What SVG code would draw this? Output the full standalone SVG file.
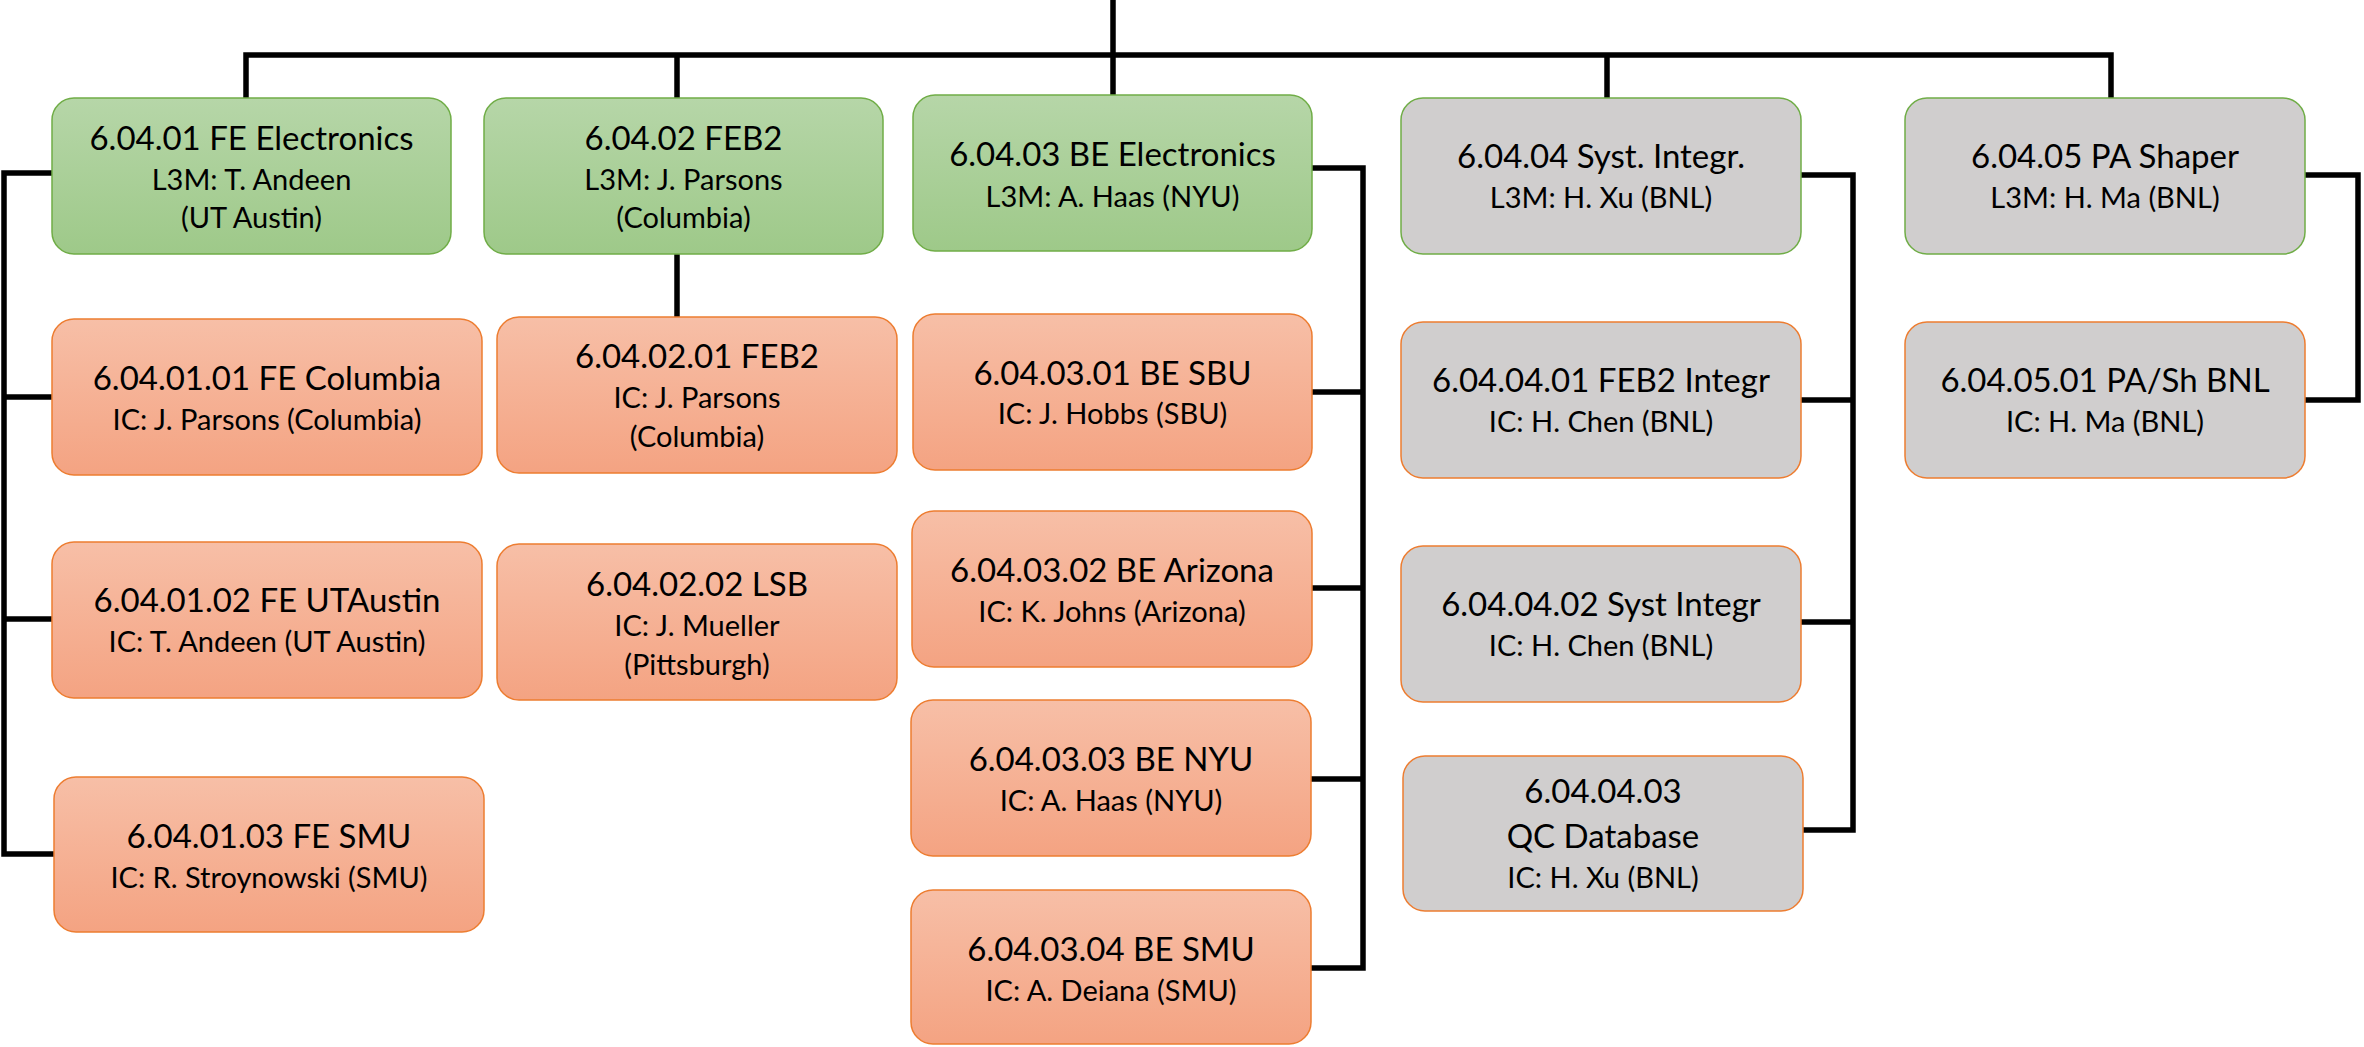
<svg xmlns="http://www.w3.org/2000/svg" width="2364" height="1047" viewBox="0 0 2364 1047">
<defs>
<linearGradient id="gG" x1="0" y1="0" x2="0" y2="1"><stop offset="0" stop-color="#b6d6a8"/><stop offset="1" stop-color="#9ec989"/></linearGradient>
<linearGradient id="gO" x1="0" y1="0" x2="0" y2="1"><stop offset="0" stop-color="#f7bfa7"/><stop offset="1" stop-color="#f4a382"/></linearGradient>
<style>
.g{fill:url(#gG);stroke:#70ad47;stroke-width:1.5}
.o{fill:url(#gO);stroke:#ed7d31;stroke-width:1.5}
.sg{fill:#d0cece;stroke:#70ad47;stroke-width:1.5}
.so{fill:#d0cece;stroke:#ed7d31;stroke-width:1.5}
text{font-family:Lato,"Open Sans","Liberation Sans",sans-serif;fill:#000;text-anchor:middle}
.t{font-size:33px}
.s{font-size:29px}
.c{fill:none;stroke:#000;stroke-width:5.5}
</style>
</defs>
<rect width="2364" height="1047" fill="#fff"/>
<g id="connectors">
<path class="c" d="M1113 0V95M246 98V55H2111V98M677 55V98M1607 55V98"/>
<path class="c" d="M677 254V317"/>
<path class="c" d="M52 173H4V854H54M4 397H52M4 619H52"/>
<path class="c" d="M1312 168H1363V968H1311M1312 392H1363M1312 588H1363M1311 779H1363"/>
<path class="c" d="M1801 175H1853V830H1803M1801 400H1853M1801 622H1853"/>
<path class="c" d="M2305 175H2358V400H2305"/>
</g>
<g id="n60401"><rect class="g" x="52" y="98" width="399" height="156" rx="22"/><text class="t" x="251.5" y="150">6.04.01 FE Electronics</text><text class="s" x="251.5" y="190">L3M: T. Andeen</text><text class="s" x="251.5" y="228">(UT Austin)</text></g>
<g id="n60402"><rect class="g" x="484" y="98" width="399" height="156" rx="22"/><text class="t" x="683.5" y="150">6.04.02 FEB2</text><text class="s" x="683.5" y="190">L3M: J. Parsons</text><text class="s" x="683.5" y="228">(Columbia)</text></g>
<g id="n60403"><rect class="g" x="913" y="95" width="399" height="156" rx="22"/><text class="t" x="1112.5" y="166">6.04.03 BE Electronics</text><text class="s" x="1112.5" y="207">L3M: A. Haas (NYU)</text></g>
<g id="n60404"><rect class="sg" x="1401" y="98" width="400" height="156" rx="22"/><text class="t" x="1601" y="168">6.04.04 Syst. Integr.</text><text class="s" x="1601" y="208">L3M: H. Xu (BNL)</text></g>
<g id="n60405"><rect class="sg" x="1905" y="98" width="400" height="156" rx="22"/><text class="t" x="2105" y="168">6.04.05 PA Shaper</text><text class="s" x="2105" y="208">L3M: H. Ma (BNL)</text></g>
<g id="n6040101"><rect class="o" x="52" y="319" width="430" height="156" rx="22"/><text class="t" x="267" y="390">6.04.01.01 FE Columbia</text><text class="s" x="267" y="430">IC: J. Parsons (Columbia)</text></g>
<g id="n6040102"><rect class="o" x="52" y="542" width="430" height="156" rx="22"/><text class="t" x="267" y="612">6.04.01.02 FE UTAustin</text><text class="s" x="267" y="652">IC: T. Andeen (UT Austin)</text></g>
<g id="n6040103"><rect class="o" x="54" y="777" width="430" height="155" rx="22"/><text class="t" x="269" y="848">6.04.01.03 FE SMU</text><text class="s" x="269" y="888">IC: R. Stroynowski (SMU)</text></g>
<g id="n6040201"><rect class="o" x="497" y="317" width="400" height="156" rx="22"/><text class="t" x="697" y="368">6.04.02.01 FEB2</text><text class="s" x="697" y="408">IC: J. Parsons</text><text class="s" x="697" y="447">(Columbia)</text></g>
<g id="n6040202"><rect class="o" x="497" y="544" width="400" height="156" rx="22"/><text class="t" x="697" y="596">6.04.02.02 LSB</text><text class="s" x="697" y="636">IC: J. Mueller</text><text class="s" x="697" y="675">(Pittsburgh)</text></g>
<g id="n6040301"><rect class="o" x="913" y="314" width="399" height="156" rx="22"/><text class="t" x="1112.5" y="385">6.04.03.01 BE SBU</text><text class="s" x="1112.5" y="424">IC: J. Hobbs (SBU)</text></g>
<g id="n6040302"><rect class="o" x="912" y="511" width="400" height="156" rx="22"/><text class="t" x="1112" y="582">6.04.03.02 BE Arizona</text><text class="s" x="1112" y="622">IC: K. Johns (Arizona)</text></g>
<g id="n6040303"><rect class="o" x="911" y="700" width="400" height="156" rx="22"/><text class="t" x="1111" y="771">6.04.03.03 BE NYU</text><text class="s" x="1111" y="811">IC: A. Haas (NYU)</text></g>
<g id="n6040304"><rect class="o" x="911" y="890" width="400" height="154" rx="22"/><text class="t" x="1111" y="961">6.04.03.04 BE SMU</text><text class="s" x="1111" y="1001">IC: A. Deiana (SMU)</text></g>
<g id="n6040401"><rect class="so" x="1401" y="322" width="400" height="156" rx="22"/><text class="t" x="1601" y="392">6.04.04.01 FEB2 Integr</text><text class="s" x="1601" y="432">IC: H. Chen (BNL)</text></g>
<g id="n6040402"><rect class="so" x="1401" y="546" width="400" height="156" rx="22"/><text class="t" x="1601" y="616">6.04.04.02 Syst Integr</text><text class="s" x="1601" y="656">IC: H. Chen (BNL)</text></g>
<g id="n6040403"><rect class="so" x="1403" y="756" width="400" height="155" rx="22"/><text class="t" x="1603" y="803">6.04.04.03</text><text class="t" x="1603" y="848">QC Database</text><text class="s" x="1603" y="888">IC: H. Xu (BNL)</text></g>
<g id="n6040501"><rect class="so" x="1905" y="322" width="400" height="156" rx="22"/><text class="t" x="2105" y="392">6.04.05.01 PA/Sh BNL</text><text class="s" x="2105" y="432">IC: H. Ma (BNL)</text></g>
</svg>
